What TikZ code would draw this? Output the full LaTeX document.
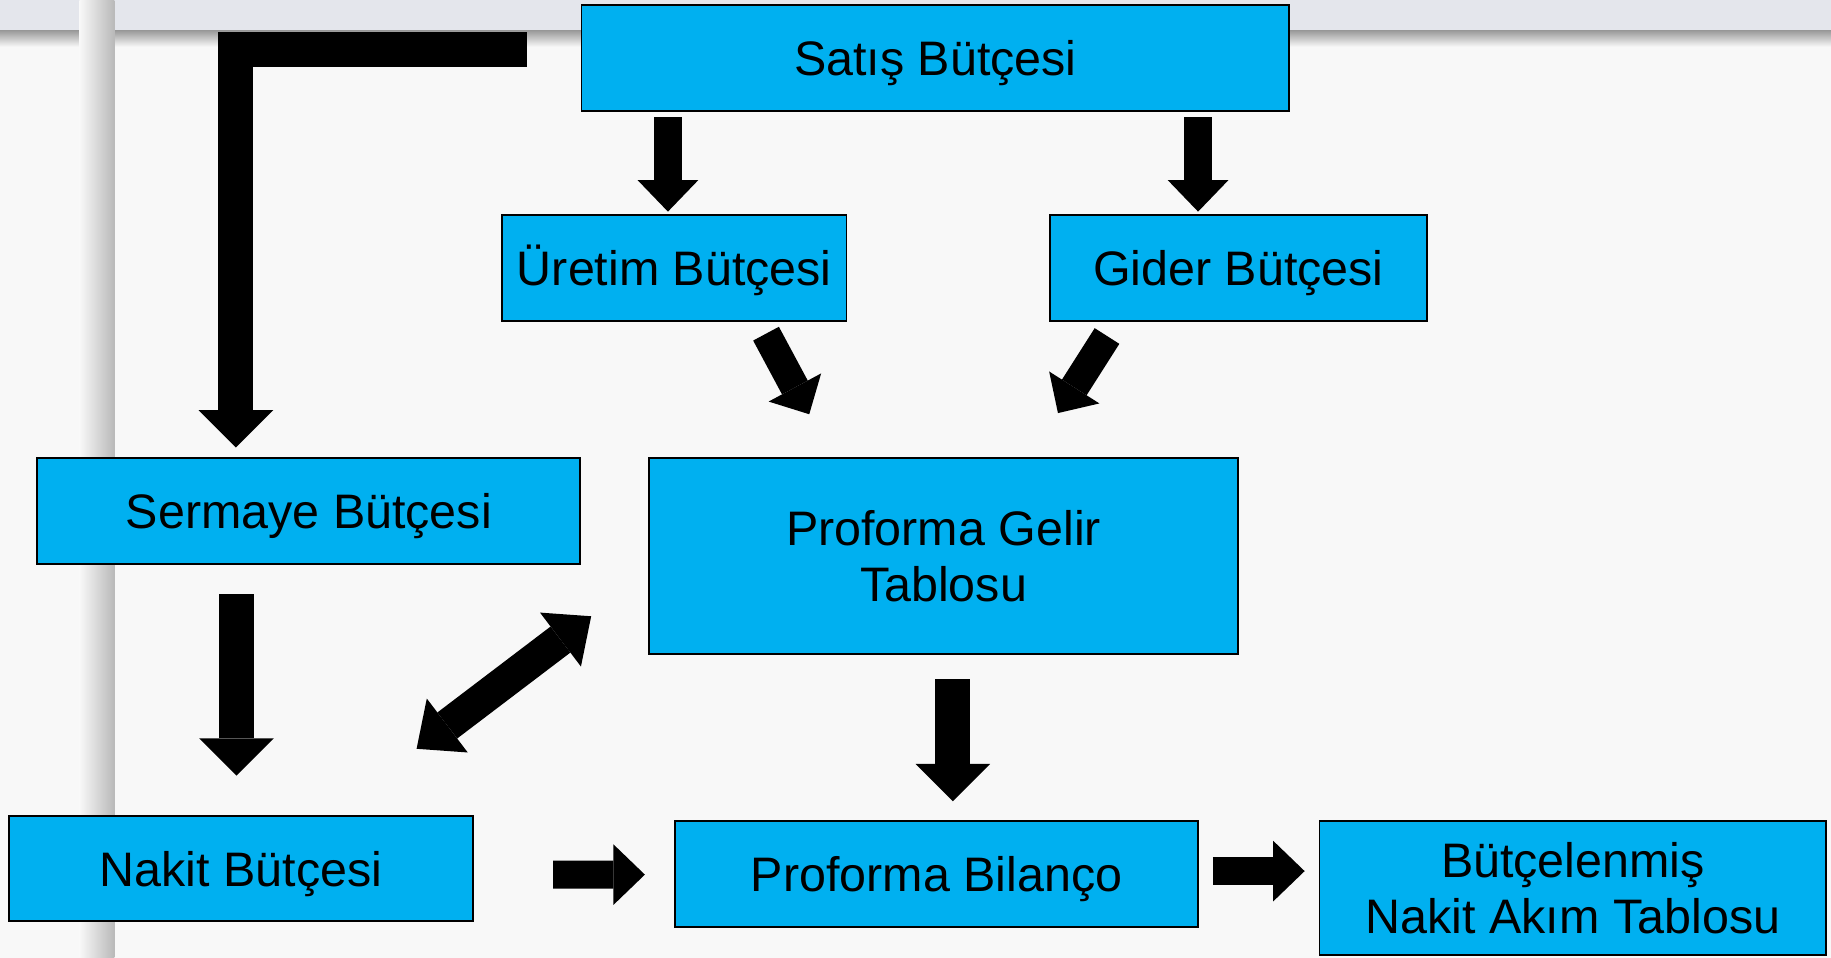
\documentclass[tikz,border=0pt]{standalone}
\usepackage{fontspec}
\setmainfont{Liberation Sans}
\usetikzlibrary{arrows.meta,calc}

\definecolor{kutumavi}{RGB}{0,176,240}
\definecolor{zemin}{RGB}{248,248,248}
\definecolor{bant}{RGB}{228,230,236}

\tikzset{
	butce/.style={draw=black, line width=0.15mm, fill=kutumavi, inner sep=0pt, align=center, font=\fontsize{11.8}{13.6}\selectfont},
	teksatir/.style={text height=8.5pt, text depth=0pt},
	okince/.style={line width=2.4mm, -{Triangle[length=2.7mm, width=5.2mm, line width=0pt]}},
	okorta/.style={line width=2.5mm, -{Triangle[length=2.6mm, width=5.1mm, line width=0pt]}},
	okkalin/.style={line width=3mm, -{Triangle[length=3.2mm, width=6.4mm, line width=0pt]}},
	ikiyonlu/.style={line width=2.8mm, {Triangle[length=3.3mm, width=5.8mm, line width=0pt]}-{Triangle[length=3.3mm, width=5.8mm, line width=0pt]}}
}

\begin{document}
\begin{tikzpicture}[x=0.1mm, y=-0.1mm]
	% zemin
	\useasboundingbox (0,0) rectangle (1568,820);
	\fill[zemin] (0,0) rectangle (1568,820);
	\fill[bant] (0,0) rectangle (1568,27);
	\shade[top color=gray!80, bottom color=zemin] (0,26) rectangle (1568,40);
	\shade[left color=zemin, right color=gray!55] (68,0) rectangle (98,820);

	% kutular
	\node[butce, teksatir, minimum width=60.6mm, minimum height=9.1mm] (satis) at (801,49.5) {Satış Bütçesi};
	\node[butce, teksatir, minimum width=29.5mm, minimum height=9.1mm] (uretim) at (577.5,229.5) {Üretim Bütçesi};
	\node[butce, teksatir, minimum width=32.3mm, minimum height=9.1mm] (gider) at (1060.5,229.5) {Gider Bütçesi};
	\node[butce, teksatir, minimum width=46.5mm, minimum height=9.1mm] (sermaye) at (264.5,437.5) {Sermaye Bütçesi};
	\node[butce, minimum width=50.4mm, minimum height=16.8mm] (gelir) at (808,476) {Proforma Gelir\\Tablosu};
	\node[butce, teksatir, minimum width=39.7mm, minimum height=9mm] (nakit) at (206.5,744) {Nakit Bütçesi};
	\node[butce, teksatir, minimum width=44.8mm, minimum height=9.1mm] (bilanco) at (802,748.5) {Proforma Bilanço};
	\node[butce, minimum width=43.4mm, minimum height=11.5mm] (akim) at (1347,760.5) {Bütçelenmiş\\Nakit Akım Tablosu};

	% oklar
	\draw[okince] ($(uretim.north)+(-5.5,-83)$) -- ($(uretim.north)+(-5.5,-2)$);
	\draw[okince] ($(gider.north)+(-34.5,-83)$) -- ($(gider.north)+(-34.5,-2)$);
	\draw[okkalin, line join=miter] ($(satis.west)+(-46,-7.5)$) -| ($(sermaye.north)+(-62.5,-8)$);
	\draw[okorta] ($(uretim.south)+(78.5,10)$) -- ($(gelir.north)+(-115,-36.5)$);
	\draw[okorta] ($(gider.south)+(-112.5,12)$) -- ($(gelir.north)+(98,-37.5)$);
	\draw[okkalin] ($(sermaye.south)+(-62,25)$) -- ($(nakit.north)+(-4,-34)$);
	\draw[okkalin] ($(gelir.south)+(8,21)$) -- ($(bilanco.north)+(14,-16)$);
	\draw[ikiyonlu] ($(nakit.north east)+(-49,-57)$) -- ($(gelir.south west)+(-49,-33)$);
	\draw[okince] ($(nakit.east)+(68,5)$) -- ($(bilanco.west)+(-25,0.5)$);
	\draw[okince] ($(bilanco.east)+(12,-2.5)$) -- ($(akim.west)+(-12,-14.5)$);
\end{tikzpicture}
\end{document}
